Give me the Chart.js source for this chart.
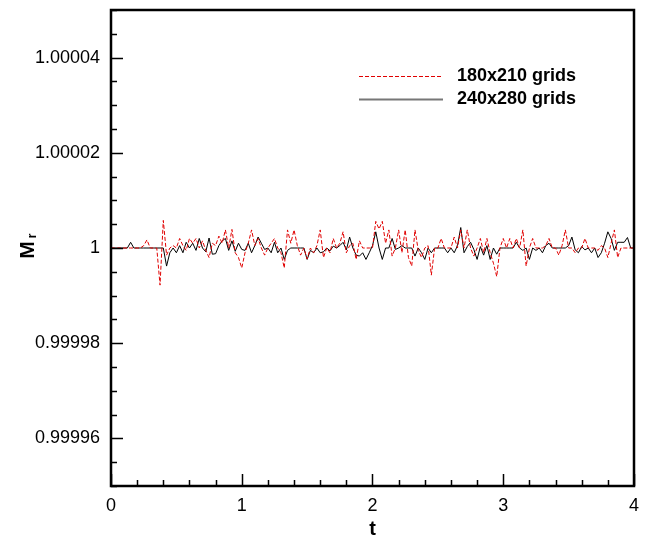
<!DOCTYPE html>
<html>
<head>
<meta charset="utf-8">
<script src="https://cdn.jsdelivr.net/npm/chart.js@4/dist/chart.umd.min.js"></script>
<style>
  body { margin: 0; background: #fff; }
</style>
</head>
<body>
<canvas id="myChart" width="650" height="541"></canvas>
<script>
// sampling step in t
const tStep = 0.025;
// deviations of M_r from 1, in units of 1e-6
const dev180 = [
  0, 0, 0, 0, 0, 0, 0, 0, 0, 0,
  0.5, 1.7, 0, 0, 0, -7.8, 5.8, -1.5, 0, 0.5,
  0, 2, 0.5, -0.5, 2, 1, 2, 0, 1.5, -0.5,
  -2, 1, 0.5, 2.5, 1, 3.8, 0, 3.9, -1, -2,
  -4.2, -1, 1, 3.8, 0.5, 2, 0, -1.5, 0, 1,
  2, 0, -1, -4.2, 3.8, 1, 3.8, 0.5, -1.5, 0,
  -2.3, 0, -1, 0.5, 3.8, -2, 0, -1, 2, 0,
  1, 3.4, -1, 0.5, 1, -2.4, 1.5, 0, 0, 0,
  0, 5.6, 4, 5.6, 1, 3.8, -1.7, 0, 3.8, -1,
  3.8, -2, -3.8, 3.8, -0.5, -2, 0, 0.5, -5.7, 0,
  0, 2, 0, 0, 0, 2.3, 0, 3.8, 0, 3.8,
  0, -1.7, 0, 2, -1, 2, -1, -3.2, -6, 0,
  2, 0, 2, 0, 2, 0, 3.8, -3.8, 0, 2,
  0, 0, 0, 0.5, 2, 0, 0, -1.5, 0.5, 3.8,
  0, 0, -1, 0, 0, 2, 0, 0, 0, -0.5,
  0.5, 0, -2, 1, 3.8, -2, 0, 0, 0, 0,
  0
];
const dev240 = [
  0, 0, 0, 0, 0, 0, 1.2, 0, 0, 0,
  0, 0, 0, 0, 0, 0, 0, -3.8, -1, 0,
  -1, 0.5, -1, 1.2, 0, 1, -0.5, 2, 0, -0.8,
  2.1, -1.3, -1.2, 0.5, 1.5, 2, -0.5, 1.5, -0.7, 1,
  -0.3, -0.5, 1, -1, 0.5, 2.3, 1, -0.3, 0, -1,
  1.2, -1, 0, -2.4, -0.5, 0, 0, 0, 0, 0,
  -2.4, -0.5, -1, 0, -1, -0.8, 0, -0.6, 0.4, 0,
  0.5, 1.2, -0.4, 2.3, 0, -1.5, -1.7, -1, -2.4, -1,
  0.5, 3.4, 0, -2.4, 0, 0, 2, -0.3, 0, 0.5,
  0, 0, 0, -1.7, 0, -1, -2.4, 0, -1, 0,
  0, 0, 0, -1, 0, -1, 0.5, 4.3, -1, 0.3,
  1.2, -0.3, -2.4, 0.3, -1.5, 0.5, -2.4, 0, -1.3, 0,
  0, 0, 0, 0, 1.2, 0, -0.5, 0, -2.4, 0,
  -0.5, 0, -1, 0.5, 1, 0, 0, 0, 0, 0,
  0.5, 2.3, -0.4, -1, 0.3, -0.4, 0, -1, 0, -2,
  -1, 1, 3.4, 2, -0.5, 1.2, 1.2, 1.2, 2.2, 0,
  0
];
const seriesLabels = ['180x210 grids', '240x280 grids'];
const xTicks = [0, 1, 2, 3, 4];
const yTicks = [0.99996, 0.99998, 1, 1.00002, 1.00004];
const yTickLabels = ['0.99996', '0.99998', '1', '1.00002', '1.00004'];

const toPoints = dev => dev.map((d, i) => ({ x: i * tStep, y: 1 + d * 1e-6 }));
const font = "'Liberation Sans', Arial, sans-serif";

// frame, inward ticks, legend and the y title
const framePlugin = {
  id: 'frame',
  afterDraw(chart) {
    const ctx = chart.ctx;
    const a = chart.chartArea;
    const xs = chart.scales.x, ys = chart.scales.y;
    ctx.save();
    ctx.strokeStyle = '#000';
    ctx.lineWidth = 1.5;
    ctx.beginPath();
    for (let v = 0; v <= 4.0001; v += 0.2) {
      const px = Math.round(xs.getPixelForValue(v)) + 0.5;
      const isMajor = Math.abs(v - Math.round(v)) < 1e-6;
      const len = isMajor ? 12 : 6;
      ctx.moveTo(px, a.bottom); ctx.lineTo(px, a.bottom - len);
    }
    for (let k = 0; k <= 20; k++) {
      const v = 0.99995 + k * 0.000005;
      const py = Math.round(ys.getPixelForValue(v)) + 0.5;
      const isMajor = yTicks.some(t => Math.abs(t - v) < 1e-9);
      const len = isMajor ? 12 : 6;
      ctx.moveTo(a.left, py); ctx.lineTo(a.left + len, py);
    }
    ctx.stroke();
    ctx.lineWidth = 2.5;
    ctx.strokeRect(a.left, a.top, a.right - a.left, a.bottom - a.top);

    // legend
    const rows = [76, 99];
    chart.data.datasets.forEach((ds, i) => {
      ctx.beginPath();
      ctx.strokeStyle = i === 0 ? ds.borderColor : '#777';
      ctx.lineWidth = i === 0 ? 1 : 2;
      ctx.setLineDash(ds.borderDash || []);
      ctx.moveTo(359, rows[i] + 0.5);
      ctx.lineTo(443, rows[i] + 0.5);
      ctx.stroke();
      ctx.setLineDash([]);
      ctx.fillStyle = '#000';
      ctx.font = 'bold 18px ' + font;
      ctx.textBaseline = 'middle';
      ctx.textAlign = 'left';
      ctx.fillText(ds.label, 457, rows[i]);
    });

    // y title M_r
    ctx.translate(28, 247);
    ctx.rotate(-Math.PI / 2);
    ctx.font = 'bold 21px ' + font;
    ctx.textAlign = 'center';
    ctx.textBaseline = 'middle';
    ctx.fillText('M', -3, 0);
    ctx.font = 'bold 12px ' + font;
    ctx.fillText('r', 11, 5);
    ctx.restore();
  }
};

new Chart('myChart', {
  type: 'line',
  data: {
    datasets: [
      {
        label: seriesLabels[0],
        data: toPoints(dev180),
        borderColor: '#e00000',
        borderWidth: 1,
        borderDash: [4, 2],
        pointRadius: 0,
        tension: 0
      },
      {
        label: seriesLabels[1],
        data: toPoints(dev240),
        borderColor: '#000',
        borderWidth: 1,
        pointRadius: 0,
        tension: 0
      }
    ]
  },
  options: {
    responsive: false,
    animation: false,
    layout: { padding: { top: 10, right: 16, left: 0, bottom: 0 } },
    plugins: {
      legend: { display: false },
      tooltip: { enabled: false }
    },
    scales: {
      x: {
        type: 'linear',
        min: 0,
        max: 4,
        afterBuildTicks: s => { s.ticks = xTicks.map(v => ({ value: v })); },
        afterFit: s => { s.height = 55; s.paddingLeft = 0; s.paddingRight = 0; },
        grid: { display: false, drawTicks: false },
        border: { display: false },
        ticks: {
          padding: 9,
          color: '#000',
          font: { family: font, size: 18 },
          callback: v => String(v)
        },
        title: {
          display: true,
          text: 't',
          color: '#000',
          padding: { top: 0, bottom: 0 },
          font: { family: font, size: 20, weight: 'bold' }
        }
      },
      y: {
        min: 0.99995,
        max: 1.00005,
        afterBuildTicks: s => { s.ticks = yTicks.map(v => ({ value: v })); },
        afterFit: s => { s.width = 111; s.paddingTop = 0; s.paddingBottom = 0; },
        grid: { display: false, drawTicks: false },
        border: { display: false },
        ticks: {
          padding: 11,
          color: '#000',
          font: { family: font, size: 18 },
          callback: (v, i) => yTickLabels[i]
        }
      }
    }
  },
  plugins: [framePlugin]
});
</script>
</body>
</html>
